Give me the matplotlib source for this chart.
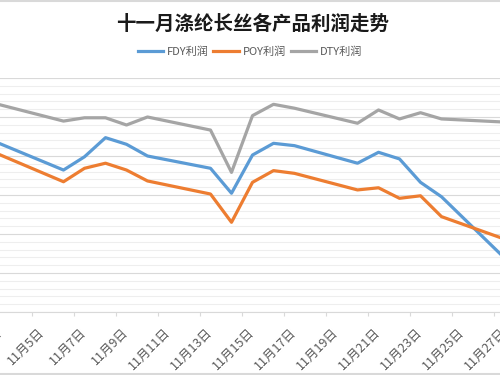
import matplotlib
matplotlib.use('Agg')
import matplotlib.pyplot as plt
import matplotlib.dates as mdates
from matplotlib.ticker import MultipleLocator, FixedLocator, FuncFormatter
from matplotlib.lines import Line2D
import pandas as pd
import datetime as dt

plt.rcParams['font.family'] = ['Noto Sans CJK SC', 'DejaVu Sans']

# data (yuan/ton, estimated)
dates = ['2017-11-03', '2017-11-06', '2017-11-07', '2017-11-08', '2017-11-09', '2017-11-10',
         '2017-11-13', '2017-11-14', '2017-11-15', '2017-11-16', '2017-11-17',
         '2017-11-20', '2017-11-21', '2017-11-22', '2017-11-23', '2017-11-24', '2017-11-27']
fdy = [862, 728, 796, 894, 860, 800, 737, 609, 805, 865, 853, 763, 819, 785, 665, 591, 277]
poy = [805, 668, 737, 763, 728, 672, 605, 460, 665, 725, 711, 626, 637, 583, 596, 489, 374]
dty = [1062, 979, 996, 996, 959, 1000, 933, 716, 1007, 1065, 1045, 968, 1036, 990, 1022, 990, 974]

series_names = ['FDY利润', 'POY利润', 'DTY利润']
colors = ['#5B9BD5', '#ED7D31', '#A5A5A5']

x = pd.to_datetime(dates)

fig = plt.figure(figsize=(5, 3.75), dpi=100)
# plot area is wider than the picture, the original was cropped on both sides
ax = fig.add_axes([-41.5/500, 63/375, 609/500, 234/375])

for vals, c in zip([fdy, poy, dty], colors):
    ax.plot(x, vals, color=c, lw=2.3, solid_joinstyle='round')

ax.set_xlim(dt.datetime(2017, 11, 1), dt.datetime(2017, 11, 30))
ax.set_ylim(0, 1200)

ax.yaxis.set_major_locator(MultipleLocator(200))
ax.yaxis.set_minor_locator(MultipleLocator(40))
ax.grid(which='major', axis='y', color='#d9d9d9', lw=0.8)
ax.grid(which='minor', axis='y', color='#eeeeee', lw=0.8)
ax.set_axisbelow(True)
ax.tick_params(axis='y', which='both', left=False, labelleft=False)

ax.xaxis.set_major_locator(mdates.DayLocator(bymonthday=range(1, 32, 2)))
ax.xaxis.set_major_formatter(FuncFormatter(
    lambda v, pos: f"{mdates.num2date(v).month}月{mdates.num2date(v).day}日"))
half_days = [mdates.date2num(dt.datetime(2017, 11, d, 12)) for d in range(2, 30, 2)]
ax.xaxis.set_minor_locator(FixedLocator(half_days))
ax.tick_params(axis='x', which='major', length=0, pad=13, labelsize=9, labelcolor='#595959')
ax.tick_params(axis='x', which='minor', length=3, color='#d9d9d9', width=0.8)
for lab in ax.get_xticklabels():
    lab.set_rotation(45)
    lab.set_ha('right')
    lab.set_va('center')
    lab.set_rotation_mode('anchor')
    lab.set_x(lab.get_position()[0])

for s in ['top', 'left', 'right']:
    ax.spines[s].set_visible(False)
ax.spines['bottom'].set_color('#d9d9d9')
ax.spines['bottom'].set_linewidth(0.8)

fig.text(0.506, 1 - 24/375, '十一月涤纶长丝各产品利润走势', ha='center', va='center',
         fontsize=14, fontweight='bold', color='#1a1a1a')

handles = [Line2D([], [], color=c, lw=2.3) for c in colors]
fig.legend(handles, series_names, loc='center', bbox_to_anchor=(0.5, 1 - 52/375), ncol=3,
           frameon=False, fontsize=8, labelcolor='#595959', handlelength=2.3,
           handletextpad=0.35, columnspacing=0.4)

# chart frame edges seen at top and bottom of the crop
fig.add_artist(Line2D([0, 1], [1 - 1/375, 1 - 1/375], color='#d9d9d9', lw=1.5))
fig.add_artist(Line2D([0, 1], [1/375, 1/375], color='#d9d9d9', lw=1.5))

fig.savefig('out.png', dpi=100)
